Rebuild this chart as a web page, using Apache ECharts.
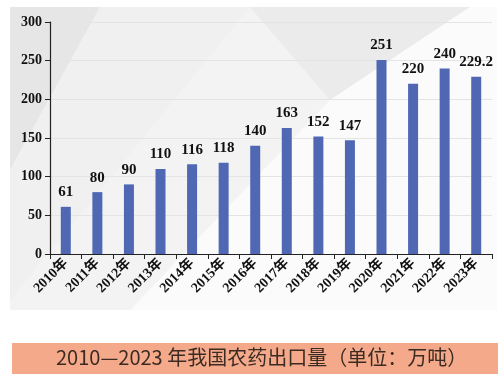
<!DOCTYPE html>
<html><head><meta charset="utf-8">
<script src="https://cdn.jsdelivr.net/npm/echarts@6/dist/echarts.min.js"></script>
<style>html,body{margin:0;padding:0;background:#fff}#c{width:504px;height:383px}</style>
</head><body><div id="c"></div>
<script>
const categories = ['2010年','2011年','2012年','2013年','2014年','2015年','2016年','2017年','2018年','2019年','2020年','2021年','2022年','2023年'];
const exportVolume = [61, 80, 90, 110, 116, 118, 140, 163, 152, 147, 251, 220, 240, 229.2];
const yTicks = [0, 50, 100, 150, 200, 250, 300];
const caption = '2010—2023 年我国农药出口量（单位：万吨）';

const chart = echarts.init(document.getElementById('c'), null, {renderer:'canvas'});
const serif = "'Liberation Serif','Times New Roman','Noto Sans CJK SC',serif";
chart.setOption({
  animation:false,
  backgroundColor:'#ffffff',
  graphic:[
    {type:'rect', z:-10, shape:{x:10,y:7,width:487,height:303}, style:{fill:'#f3f3f3'}},
    {type:'polygon', z:-9, shape:{points:[[10,7],[100,7],[10,170]]}, style:{fill:'#e6e6e6'}},
    {type:'polygon', z:-9, shape:{points:[[100,7],[250,7],[10,300],[10,170]]}, style:{fill:'#f0f0f0'}},
    {type:'polygon', z:-9, shape:{points:[[250,7],[470,7],[330,100]]}, style:{fill:'#ebebeb'}},
    {type:'polygon', z:-9, shape:{points:[[330,100],[470,7],[497,7],[497,310],[130,310]]}, style:{fill:'#fbfbfb'}},
    {type:'rect', z:-9, shape:{x:12,y:343,width:486,height:31}, style:{fill:'#f4a98a'}},
    {type:'text', z:10, left:56, top:347, style:{text:caption, fill:'#3b2b22', font:"20px 'Noto Sans CJK SC','Noto Sans',sans-serif"}}
  ],
  grid:{left:50, right:12, top:22, bottom:129},
  xAxis:{
    type:'category', data:categories,
    axisLine:{lineStyle:{color:'#222', width:1.2}},
    axisTick:{show:true, alignWithLabel:false, length:5, lineStyle:{color:'#222'}},
    axisLabel:{rotate:45, margin:7, color:'#111', fontWeight:'bold', fontSize:14, fontFamily:serif}
  },
  yAxis:{
    type:'value', min:0, max:300, interval:50,
    axisLine:{show:true, lineStyle:{color:'#222', width:1.2}},
    axisTick:{show:true, length:5, lineStyle:{color:'#222'}},
    splitLine:{show:true, lineStyle:{color:'#e4e4e4'}},
    axisLabel:{margin:8, color:'#111', fontWeight:'bold', fontSize:14, fontFamily:serif,
      formatter:v => yTicks.includes(v) ? String(v) : ''}
  },
  series:[{
    type:'bar', data:exportVolume, barWidth:10,
    itemStyle:{color:'#5068b4'},
    label:{show:true, position:'top', distance:7, color:'#111', fontWeight:'bold', fontSize:15, fontFamily:serif}
  }]
});
</script></body></html>
